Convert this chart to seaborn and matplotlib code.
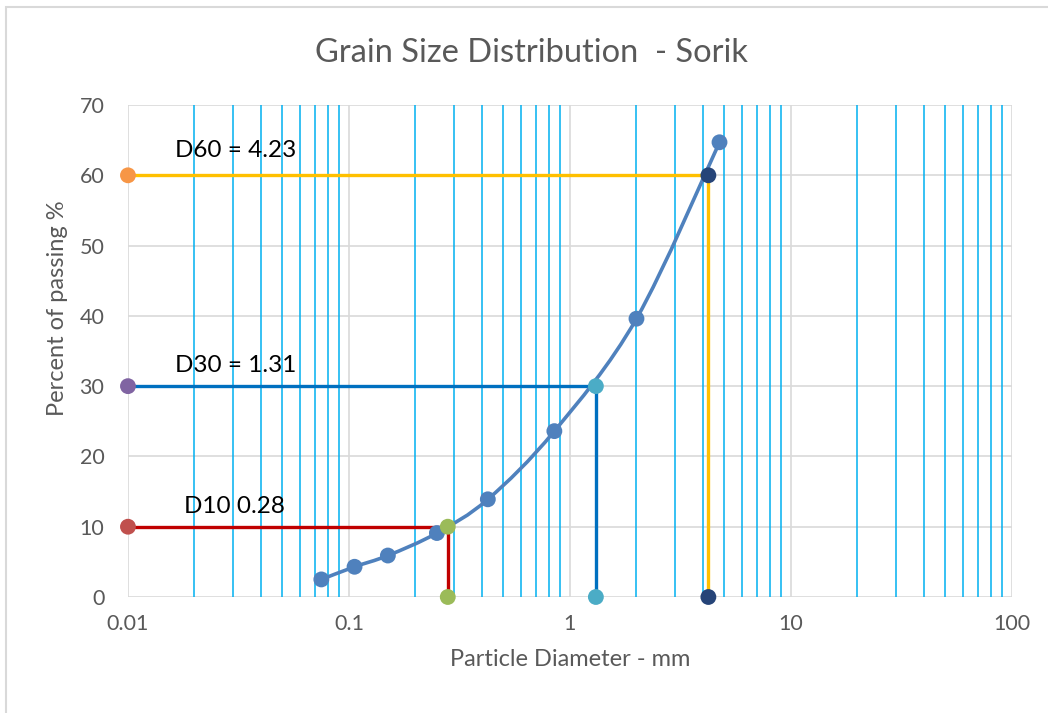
import numpy as np
import matplotlib
matplotlib.use("Agg")
import matplotlib.pyplot as plt
import seaborn as sns
from matplotlib.path import Path
from matplotlib.patches import PathPatch, Rectangle

# ---------------------------------------------------------
# Daten
# ---------------------------------------------------------
sieve_mm = [0.075, 0.106, 0.15, 0.25, 0.425, 0.85, 2.0, 4.75]
passing = [2.5, 4.3, 5.9, 9.1, 13.9, 23.6, 39.6, 64.7]

d_labels = ["D10 0.28", "D30 = 1.31", "D60 = 4.23"]
d_pct = [10, 30, 60]
d_size = [0.28, 1.31, 4.23]
d_line_colors = ["#C00000", "#0070C0", "#FFC000"]
d_left_colors = ["#C0504D", "#8064A2", "#F79646"]
d_point_colors = ["#9BBB59", "#4BACC6", "#264478"]
d_text_x = [0.0179, 0.0163, 0.0163]
d_text_y = [12.0, 32.0, 62.6]

x_ticks = [0.01, 0.1, 1, 10, 100]
x_ticklabels = ["0.01", "0.1", "1", "10", "100"]
y_ticks = [0, 10, 20, 30, 40, 50, 60, 70]

curve_color = "#4F81BD"
grey = "#595959"

# ---------------------------------------------------------
# Stil
# ---------------------------------------------------------
sns.set_style("white")
plt.rcParams["font.family"] = ["Lato", "DejaVu Sans"]

fig = plt.figure(figsize=(10.48, 7.13), dpi=100)
ax = fig.add_axes([0.1221, 0.1627, 0.9656 - 0.1221, 0.8527 - 0.1627])

ax.set_xscale("log")
ax.set_xlim(0.01, 100)
ax.set_ylim(0, 70)

# Gitter: Nebenlinien blau, Hauptlinien grau
minor = [m * 10.0 ** e for e in range(-2, 2) for m in range(2, 10)]
for xv in minor:
    ax.axvline(xv, color="#00B0F0", lw=1.1, zorder=1)
for xv in x_ticks:
    ax.axvline(xv, color="#D9D9D9", lw=1.2, zorder=0.9)
for yv in y_ticks:
    ax.axhline(yv, color="#D9D9D9", lw=1.2, zorder=0.9)

for s in ax.spines.values():
    s.set_visible(False)

# D-Linien
for pct, size, lc in zip(d_pct, d_size, d_line_colors):
    ax.plot([0.01, size, size], [pct, pct, 0], color=lc, lw=2.4,
            zorder=2, clip_on=False, solid_capstyle="butt")

# Geglättete Kornverteilungskurve (Bezier durch die Messpunkte)
pts = ax.transData.transform(np.column_stack([sieve_mm, passing]))
n = len(pts)
verts = [pts[0]]
codes = [Path.MOVETO]
for i in range(n - 1):
    p0 = pts[i - 1] if i > 0 else pts[i]
    p1 = pts[i]
    p2 = pts[i + 1]
    p3 = pts[i + 2] if i + 2 < n else pts[i + 1]
    c1 = p1 + (p2 - p0) / 6.0
    c2 = p2 - (p3 - p1) / 6.0
    verts += [c1, c2, p2]
    codes += [Path.CURVE4] * 3
verts = ax.transData.inverted().transform(np.array(verts))
ax.add_patch(PathPatch(Path(verts, codes), fill=False, edgecolor=curve_color,
                       lw=2.6, zorder=3))

sns.scatterplot(x=sieve_mm, y=passing, color=curve_color, s=130,
                edgecolor="none", zorder=4, ax=ax)

for pct, size, lc, pc in zip(d_pct, d_size, d_left_colors, d_point_colors):
    sns.scatterplot(x=[0.01], y=[pct], color=lc, s=130, edgecolor="none",
                    zorder=5, ax=ax, clip_on=False)
    sns.scatterplot(x=[size, size], y=[pct, 0], color=pc, s=130,
                    edgecolor="none", zorder=5, ax=ax, clip_on=False)

for lab, tx, ty in zip(d_labels, d_text_x, d_text_y):
    ax.text(tx, ty, lab, fontsize=17.5, color="black", ha="left",
            va="baseline", zorder=6)

# Achsen
ax.set_xticks(x_ticks)
ax.set_xticklabels(x_ticklabels)
ax.minorticks_off()
ax.set_yticks(y_ticks)
ax.tick_params(axis="both", which="both", length=0, labelsize=15.5,
               labelcolor=grey)
ax.tick_params(axis="x", pad=12)
ax.tick_params(axis="y", pad=17)

ax.set_xlabel("Particle Diameter - mm", fontsize=17, color=grey, labelpad=11)
ax.set_ylabel("Percent of passing %", fontsize=17, color=grey, labelpad=8)
ax.yaxis.label.set_y(0.587)
ax.set_title("Grain Size Distribution  - Sorik", fontsize=23.5, color=grey,
             pad=31, x=0.457)

# Rahmen des Diagrammbereichs (nur oben/links sichtbar)
fig.patches.append(Rectangle((6 / 1048, -0.1), 1.2, 1.1 - 7 / 713,
                             transform=fig.transFigure, fill=False,
                             edgecolor="#D9D9D9", lw=1.5, zorder=0))

fig.savefig("out.png", dpi=100)
